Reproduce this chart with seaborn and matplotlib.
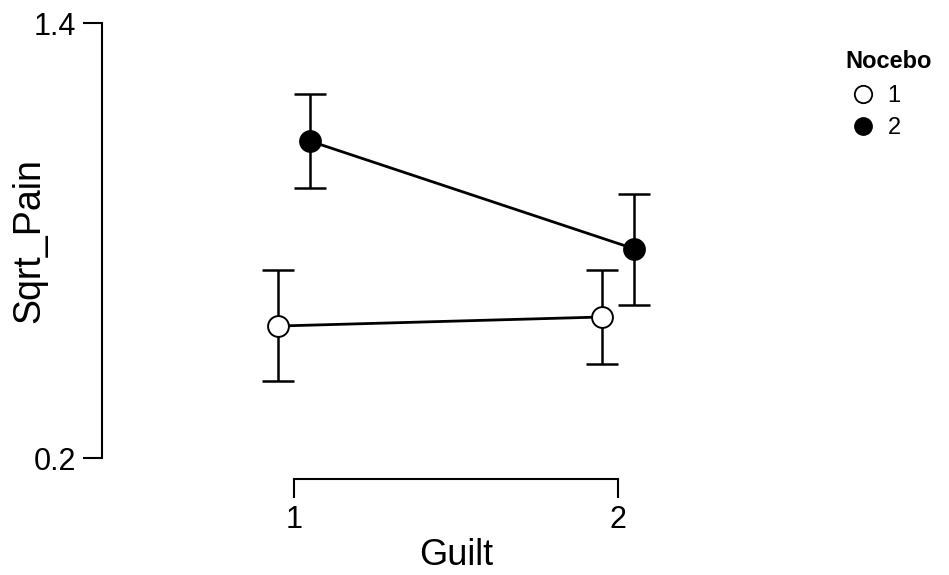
import numpy as np
import pandas as pd
import matplotlib
matplotlib.use("Agg")
import matplotlib.pyplot as plt
from matplotlib.lines import Line2D
import seaborn as sns

sns.set_style("white")
plt.rcParams['font.family'] = ['Liberation Sans', 'DejaVu Sans']
plt.rcParams['text.color'] = 'black'
plt.rcParams['axes.labelcolor'] = 'black'

# values
guilt = ["1", "2"]
nocebo = ["1", "2"]
mean_n1 = [0.564, 0.589]
lo_n1 = [0.412, 0.459]
hi_n1 = [0.719, 0.719]
mean_n2 = [1.074, 0.777]
lo_n2 = [0.945, 0.622]
hi_n2 = [1.204, 0.928]

df = pd.DataFrame({
    "Guilt": guilt * 2,
    "Nocebo": [nocebo[0]] * 2 + [nocebo[1]] * 2,
    "Sqrt_Pain": mean_n1 + mean_n2,
    "lo": lo_n1 + lo_n2,
    "hi": hi_n1 + hi_n2,
})

fig = plt.figure(figsize=(9.49, 5.75), dpi=100)
ax = fig.add_axes([102 / 949, 117 / 575, 598 / 949, 435 / 575])

dodge = 0.1
# error bars first so the markers sit on top
for i, lev in enumerate(nocebo):
    sub = df[df["Nocebo"] == lev]
    xs = np.arange(len(guilt)) - dodge / 2 + dodge * i
    ax.errorbar(xs, sub["Sqrt_Pain"],
                yerr=[sub["Sqrt_Pain"] - sub["lo"], sub["hi"] - sub["Sqrt_Pain"]],
                fmt="none", ecolor="black", elinewidth=1.8, capsize=11.5,
                capthick=1.8, zorder=1)

sns.pointplot(data=df, x="Guilt", y="Sqrt_Pain", hue="Nocebo",
              palette=["black", "black"], dodge=dodge, errorbar=None,
              markers="o", markersize=15, linewidth=2.0, ax=ax,
              legend=False, zorder=3)

face = {0: "white", 1: "black"}
for i, ln in enumerate(ax.lines[-2:]):
    ln.set_markerfacecolor(face[i])
    ln.set_markeredgecolor("black")
    ln.set_markeredgewidth(1.4)
    ln.set_zorder(3)

ax.set_xlim(-0.593, 1.253)
ax.set_ylim(0.2, 1.4)
ax.set_yticks([0.2, 1.4])
ax.set_yticklabels(["0.2", "1.4"])
ax.set_xticks([0, 1])
ax.set_xticklabels(guilt)

for s in ["top", "right"]:
    ax.spines[s].set_visible(False)
ax.spines["left"].set_bounds(0.2, 1.4)
ax.spines["bottom"].set_bounds(0, 1)
ax.spines["bottom"].set_position(("outward", 15))
for s in ["left", "bottom"]:
    ax.spines[s].set_linewidth(1.5)
    ax.spines[s].set_color("black")

ax.tick_params(axis="both", which="major", length=13.5, width=1.5,
               colors="black", labelsize=22, pad=5, direction="out")
ax.tick_params(axis="x", bottom=True)
ax.tick_params(axis="y", left=True)

ax.set_xlabel("Guilt", fontsize=26, color="black")
ax.set_ylabel("Sqrt_Pain", fontsize=27, color="black")
ax.xaxis.set_label_coords((456 - 102) / 598, -0.184)
ax.yaxis.set_label_coords(-0.091, 0.5)

handles = [
    Line2D([], [], marker="o", linestyle="none", markersize=12.5,
           markerfacecolor="white", markeredgecolor="black", markeredgewidth=1.3),
    Line2D([], [], marker="o", linestyle="none", markersize=12.5,
           markerfacecolor="black", markeredgecolor="black"),
]
leg = fig.legend(handles, nocebo, title="Nocebo", loc="upper left",
                 bbox_to_anchor=(845 / 949, 1 - 50 / 575), frameon=False,
                 fontsize=17, title_fontsize=17, handletextpad=0.3,
                 labelspacing=0.45, handlelength=1.5, borderaxespad=0,
                 borderpad=0)
leg.get_title().set_fontweight("bold")
leg._legend_box.align = "left"
leg._legend_box.sep = 8.5

fig.savefig("out.png", dpi=100)
